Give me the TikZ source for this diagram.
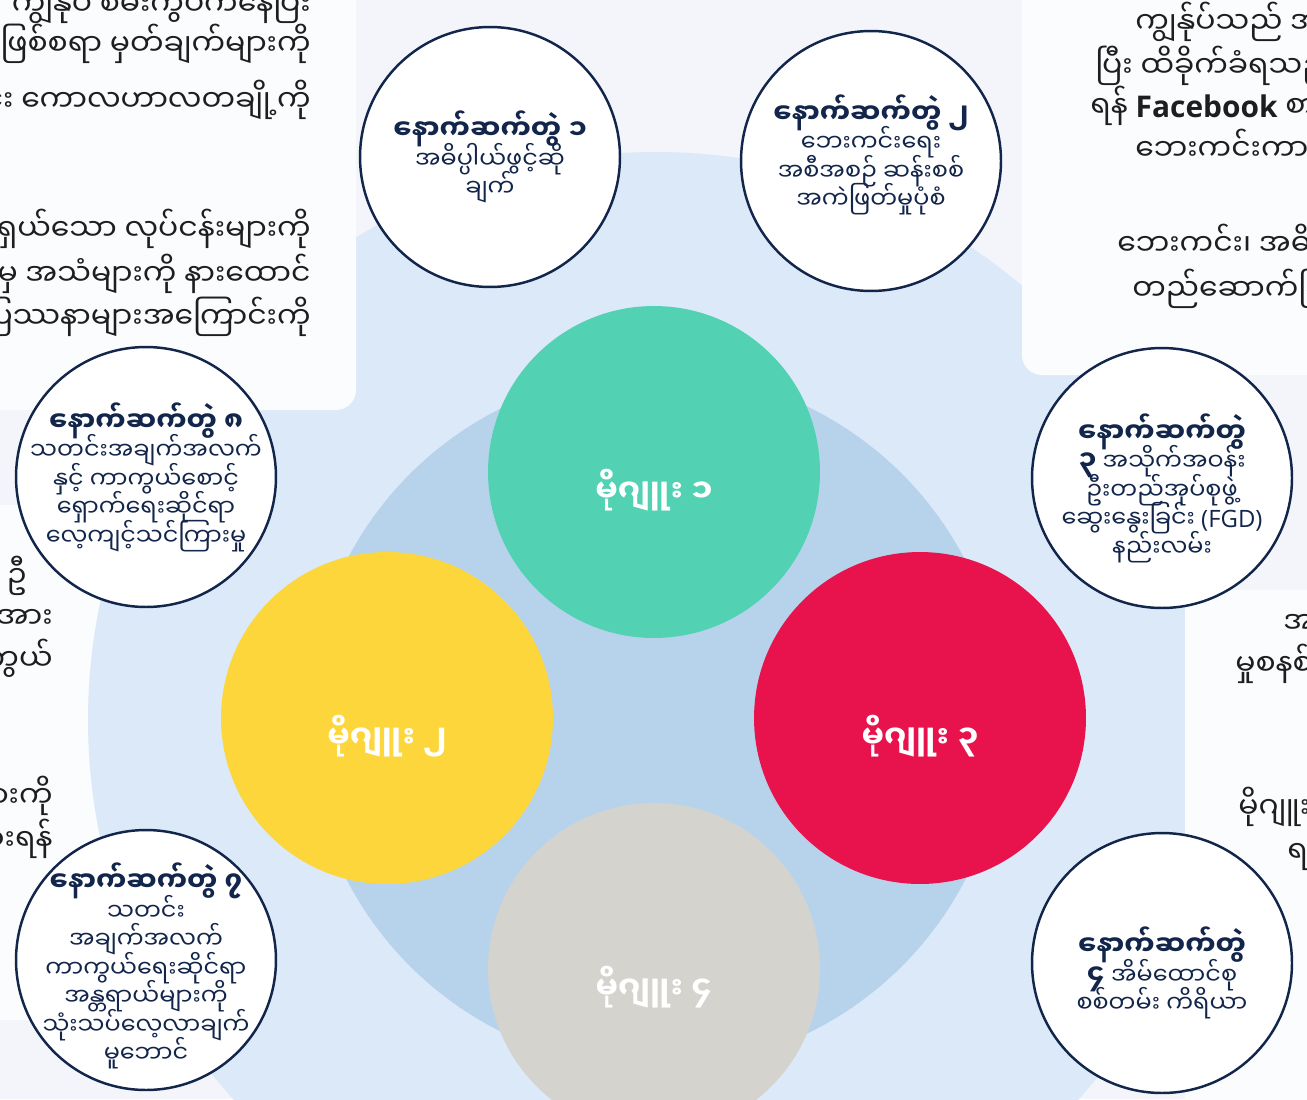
\documentclass[tikz,border=0pt]{standalone}
\usepackage{fontspec}
\setmainfont{Noto Sans}
\newfontfamily\mmfont[Script=Myanmar]{Noto Sans Myanmar UI}
\newfontfamily\latinfont{Open Sans}
\usetikzlibrary{positioning}

\definecolor{pagebg}{HTML}{F3F5FA}
\definecolor{panelbg}{HTML}{FBFCFE}
\definecolor{ringout}{HTML}{DBE9F8}
\definecolor{ringin}{HTML}{B7D3EC}
\definecolor{navy}{HTML}{12254A}
\definecolor{modteal}{HTML}{53D1B3}
\definecolor{modyellow}{HTML}{FDD63B}
\definecolor{modred}{HTML}{E8134C}
\definecolor{modgrey}{HTML}{D5D3CD}
\definecolor{sideink}{HTML}{1E1E1E}

\newcommand\antitle[1]{{\bfseries\fontsize{15.5}{15.5}\selectfont #1}}
\newcommand\tightlines{\lineskiplimit=-30pt\relax\lineskip=0pt\relax}

\begin{document}
\begin{tikzpicture}[x=0.02cm, y=-0.02cm,
		panel/.style={
			fill=panelbg,
			rounded corners=0.4cm
		},
		annex/.style={
			circle,
			draw=navy,
			line width=1.4pt,
			fill=white,
			minimum size=5.2cm,
			inner sep=0pt
		},
		antext/.style={
			inner sep=0pt,
			text=navy,
			align=center,
			font=\mmfont\fontsize{13.6}{16.2}\selectfont\tightlines
		},
		module/.style={
			circle,
			minimum size=6.64cm,
			inner sep=0pt
		},
		modtext/.style={
			text=white,
			yshift=-0.36cm,
			font=\mmfont\bfseries\fontsize{18}{22}\selectfont
		},
		sidetext/.style={
			inner sep=0pt,
			text=sideink,
			font=\mmfont\fontsize{17}{24}\selectfont
		}
		]
		\clip (0,0) rectangle (1307,1099);
		\fill[pagebg] (0,0) rectangle (1307,1099);
		
		% Left panel sits under the outer ring
		\fill[panel] (-40,505) rectangle (140,1020);
		
		% Outer ring
		\fill[ringout] (656,720) circle (568);
		
		% Text panels
		\fill[panel] (-40,-40) rectangle (356,410);
		\fill[panel] (1022,-40) rectangle (1347,375);
		\fill[panel] (1185,590) rectangle (1347,1140);
		
		% Inner ring
		\fill[ringin] (656,720) circle (348);
		
		% Left panel, top
		\foreach \ly/\lt [count=\i] in {15/ကျွန်ုပ် စမ်းကွပ်ကနေပြီး, 55/ဖြစ်စရာ မှတ်ချက်များကို,
			111/သတင်း ကောလဟာလတချို့ကို, 240/ပို့ရှယ်သော လုပ်ငန်းများကို,
			285/ပြောဆိုမှုများမှ အသံများကို နားထောင်, 328/ပြဿနာများအကြောင်းကို}
		\node[sidetext, anchor=base east] (tl\i) at (311,\ly) {\lt};
		
		% Right panel, top
		\node[sidetext, anchor=base west] (tr1) at (1135,33) {ကျွန်ုပ်သည် အ};
		\node[sidetext, anchor=base west] (tr2) at (1095,77) {ပြီး ထိခိုက်ခံရသည};
		\node[sidetext, anchor=base west] (tr3) at (1090,117) {ရန် {\latinfont\bfseries Facebook} စာ};
		\node[sidetext, anchor=base west] (tr4) at (1135,160) {ဘေးကင်းကာ};
		\node[sidetext, anchor=base west] (tr5) at (1117,255) {ဘေးကင်း၊ အဓိ};
		\node[sidetext, anchor=base west] (tr6) at (1132,300) {တည်ဆောက်ခြ};
		
		% Left panel, middle
		\node[sidetext, anchor=base east] (lm1) at (27,587) {ဦ};
		\foreach \ly/\lt [count=\i from 2] in {628/အား, 670/ကာကွယ်, 807/များကို, 850/ထားရန်}
		\node[sidetext, anchor=base east] (lm\i) at (53,\ly) {\lt};
		
		% Right panel, middle
		\node[sidetext, anchor=base west] (rm1) at (1283,633) {အ};
		\node[sidetext, anchor=base west] (rm2) at (1235,675) {မှုစနစ်};
		\node[sidetext, anchor=base west] (rm3) at (1238,818) {မိုဂျူး};
		\node[sidetext, anchor=base west] (rm4) at (1287,862) {ရ};
		
		% Modules
		\node[module, fill=modteal, label={[modtext]center:မိုဂျူး ၁}] (mod1) at (654,472) {};
		\node[module, fill=modyellow, label={[modtext]center:မိုဂျူး ၂}] (mod2) at (387,718) {};
		\node[module, fill=modred, label={[modtext]center:မိုဂျူး ၃}] (mod3) at (920,718) {};
		\node[module, fill=modgrey, label={[modtext]center:မိုဂျူး ၄}] (mod4) at (654,969) {};
		
		% Annexes
		\node[annex, label={[antext]center:{\antitle{နောက်ဆက်တွဲ ၁}\\အဓိပ္ပါယ်ဖွင့်ဆို\\ချက်}}] (annex1) at (490,157) {};
		\node[annex, label={[antext, yshift=0.12cm]center:{\antitle{နောက်ဆက်တွဲ ၂}\\ဘေးကင်းရေး\\အစီအစဉ် ဆန်းစစ်\\အကဲဖြတ်မှုပုံစံ}}] (annex2) at (871,161) {};
		\node[annex, label={[antext, yshift=-0.2cm]center:{\antitle{နောက်ဆက်တွဲ}\\\antitle{၃} အသိုက်အဝန်း\\ဦးတည်အုပ်စုဖွဲ့\\ဆွေးနွေးခြင်း {\latinfont(FGD)}\\နည်းလမ်း}}] (annex3) at (1162,478) {};
		\node[annex, label={[antext, yshift=-0.2cm]center:{\antitle{နောက်ဆက်တွဲ}\\\antitle{၄} အိမ်ထောင်စု\\စစ်တမ်း ကိရိယာ}}] (annex4) at (1162,963) {};
		\node[annex, label={[antext, yshift=-0.12cm]center:{\antitle{နောက်ဆက်တွဲ ၇}\\သတင်း\\အချက်အလက်\\ကာကွယ်ရေးဆိုင်ရာ\\အန္တရာယ်များကို\\သုံးသပ်လေ့လာချက်\\မူဘောင်}}] (annex7) at (146,960) {};
		\node[annex, label={[antext]center:{\antitle{နောက်ဆက်တွဲ ၈}\\သတင်းအချက်အလက်\\နှင့် ကာကွယ်စောင့်\\ရှောက်ရေးဆိုင်ရာ\\လေ့ကျင့်သင်ကြားမှု}}] (annex8) at (146,477) {};
		
	\end{tikzpicture}
\end{document}
